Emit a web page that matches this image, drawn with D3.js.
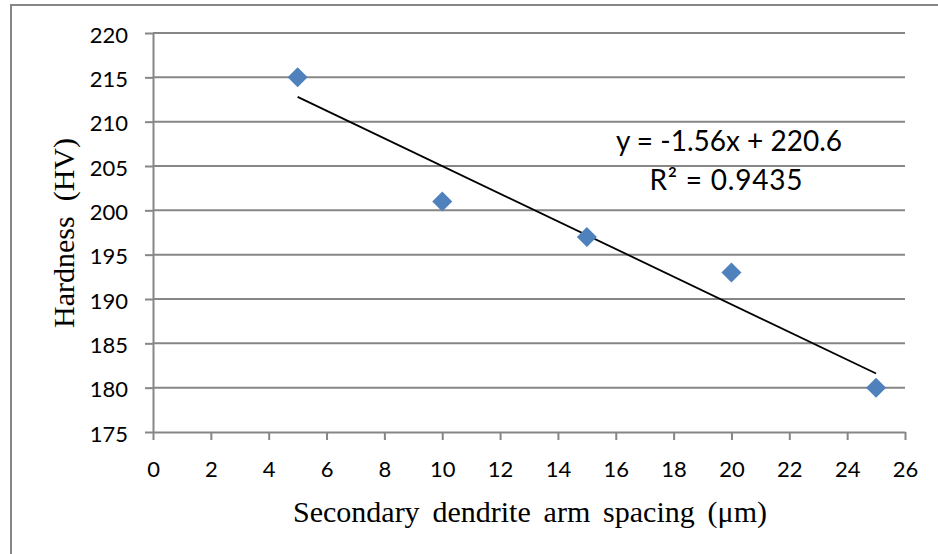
<!DOCTYPE html>
<html><head><meta charset="utf-8">
<script src="https://cdn.jsdelivr.net/npm/d3@7"></script>
<style>html,body{margin:0;padding:0;background:#fff;}svg{display:block;}
.serif{font-family:"Liberation Serif","Times New Roman","DejaVu Serif",serif;}</style>
</head><body>
<svg id="chart" width="938" height="554"></svg>
<script>
const spacing = [5, 10, 15, 20, 25];
const hardness = [215, 201, 197, 193, 180];
const xTicks = [0,2,4,6,8,10,12,14,16,18,20,22,24,26];
const yTicks = [175,180,185,190,195,200,205,210,215,220];
const trendSlope = -1.56, trendIntercept = 220.6;
const eqLabel = "y = -1.56x + 220.6";
const r2Label = "R² = 0.9435";
const xTitle = "Secondary dendrite arm spacing (μm)";
const yTitle = "Hardness (HV)";

(function () {
const svg = d3.select("#chart");
const pL = 153, pR = 905, pT = 33, pB = 432;
const x = d3.scaleLinear().domain([0, 26]).range([pL, pR]);
const y = d3.scaleLinear().domain([175, 220]).range([pB, pT]);
const grey = "#868686";
const tickFont = "Lato, 'Open Sans', sans-serif";

// outer border
svg.append("rect").attr("x", 11).attr("y", 5).attr("width", 1000).attr("height", 1000)
  .attr("fill", "none").attr("stroke", grey).attr("stroke-width", 2);

// gridlines
svg.append("g").selectAll("line").data(yTicks.filter(d => d !== 175)).join("line")
  .attr("x1", pL).attr("x2", pR).attr("y1", d => y(d)).attr("y2", d => y(d))
  .attr("stroke", grey).attr("stroke-width", 2);

// y axis
const ya = svg.append("g").attr("transform", `translate(${pL},0)`)
  .call(d3.axisLeft(y).tickValues(yTicks).tickSize(8).tickPadding(17).tickSizeOuter(0));
ya.select(".domain").attr("stroke", grey).attr("stroke-width", 2);
ya.selectAll(".tick line").attr("stroke", grey).attr("stroke-width", 2);
ya.selectAll(".tick text").attr("font-family", tickFont).attr("font-size", 22).attr("fill", "#000")
  .attr("dy", "0.42em");

// x axis
const xa = svg.append("g").attr("transform", `translate(0,${pB})`)
  .call(d3.axisBottom(x).tickValues(xTicks).tickSize(8).tickSizeOuter(0).tickPadding(21));
xa.select(".domain").attr("stroke", grey).attr("stroke-width", 2);
xa.selectAll(".tick line").attr("stroke", grey).attr("stroke-width", 2);
xa.selectAll(".tick text").attr("font-family", tickFont).attr("font-size", 22).attr("fill", "#000");

// trendline
const x0 = d3.min(spacing), x1 = d3.max(spacing);
svg.append("line")
  .attr("x1", x(x0)).attr("y1", y(trendSlope * x0 + trendIntercept))
  .attr("x2", x(x1)).attr("y2", y(trendSlope * x1 + trendIntercept))
  .attr("stroke", "#000").attr("stroke-width", 1.8);

// markers
const diamond = d3.symbol().type(d3.symbolSquare).size(200);
svg.append("g").selectAll("path").data(spacing.map((s, i) => [s, hardness[i]])).join("path")
  .attr("d", diamond)
  .attr("transform", d => `translate(${x(d[0])},${y(d[1])}) rotate(45)`)
  .attr("fill", "#4F81BD");

// equation labels
svg.append("text").attr("x", 729).attr("y", 151).attr("text-anchor", "middle")
  .attr("font-family", tickFont).attr("font-size", 28).attr("fill", "#000").text(eqLabel);
svg.append("text").attr("x", 726).attr("y", 190).attr("text-anchor", "middle")
  .attr("font-family", tickFont).attr("font-size", 28).attr("fill", "#000")
  .attr("textLength", 153).attr("lengthAdjust", "spacing").text(r2Label);

// axis titles
const xt = svg.append("text").attr("class", "serif").attr("x", 530).attr("y", 522).attr("text-anchor", "middle")
  .attr("font-size", 30).attr("fill", "#000").text(xTitle);
const xl = xt.node().getComputedTextLength();
xt.attr("word-spacing", Math.max(0, (474 - xl) / 4));

const yt = svg.append("text").attr("class", "serif").attr("transform", "translate(74,233) rotate(-90)").attr("text-anchor", "middle")
  .attr("font-size", 30).attr("fill", "#000").text(yTitle);
const yl = yt.node().getComputedTextLength();
yt.attr("word-spacing", Math.max(0, 190 - yl));
})();
</script>
</body></html>
